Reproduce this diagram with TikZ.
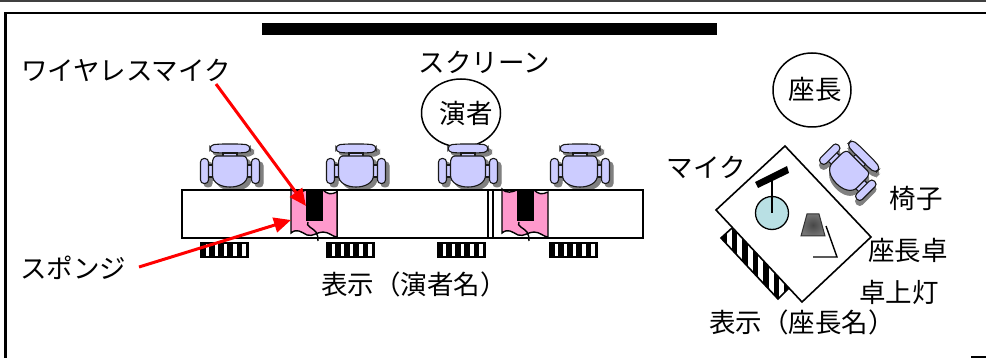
\documentclass[tikz,border=0pt]{standalone}
\usepackage{fontspec}
\newfontfamily\jp{Noto Sans CJK JP}
\usetikzlibrary{arrows.meta,shapes.geometric}
\definecolor{chairblue}{HTML}{CCCCFF}
\definecolor{flagpink}{HTML}{FF99CC}
\definecolor{micblue}{HTML}{B9E0E4}
\newcommand{\chairshapes}[1]{%
  \path[#1,rounded corners=4pt] (-20,-20) -- (-10,-21) -- (10,-21) -- (20,-20) -- (20,-13) -- (10,-12) -- (-10,-12) -- (-20,-13) -- cycle;
  \path[#1] (-7,-12) rectangle (7,-8);
  \path[#1] (-22,0) rectangle (-17,12);
  \path[#1] (22,0) rectangle (17,12);
  \path[#1,rounded corners=3.5pt] (-29.5,-6.5) rectangle (-21.5,18.5);
  \path[#1,rounded corners=3.5pt] (21.5,-6.5) rectangle (29.5,18.5);
  \path[#1] (-13,-9) -- (13,-9) .. controls (16,-9) and (17.5,-6) .. (17.5,-2) -- (17.5,10) .. controls (17.5,18) and (9,22) .. (0,22) .. controls (-9,22) and (-17.5,18) .. (-17.5,10) -- (-17.5,-2) .. controls (-17.5,-6) and (-16,-9) .. (-13,-9) -- cycle;
}
\tikzset{
  x=1pt,y=-1pt,
  chairpic/.pic={
    \begin{scope}[shift={(3.5,3.5)}]\chairshapes{fill=black!50,draw=black!50,line width=1pt}\end{scope}
    \chairshapes{fill=chairblue,draw=black!90,line width=1.1pt}
  },
  deskbox/.style={draw=black,fill=white,line width=2pt},
  stripbox/.pic={
    \fill[black] (0,0) rectangle (49,16);
    \foreach \i in {0,...,4}{\fill[white] (5.5+\i*9.2,2) rectangle (9+\i*9.2,14);}
  },
  flagpic/.pic={
    \path[fill=flagpink,draw=black,line width=1.4pt] (0,-1) -- (0,43) .. controls (6,38) and (10,42) .. (16,45) .. controls (22,47) and (26,42) .. (32,42) .. controls (38,42) and (42,47) .. (46,47) -- (46,2) .. controls (40,5) and (36,4) .. (32,0) -- (15,0) .. controls (10,2) and (5,4) .. (0,-1) -- cycle;
    \draw[black,line width=1.4pt] (17,32) .. controls (14,36) and (22,38) .. (25,42) .. controls (27,45) and (27,48) .. (27,51);
    \fill[black] (15,-1) rectangle (32,31);
  },
  jplabel/.style={inner sep=0pt,font=\jp\fontsize{26.5}{26.5}\selectfont,text=black},
  ringnode/.style={draw=black,fill=white,ellipse,line width=1.5pt,inner sep=0pt},
  redarrow/.style={draw=red,line width=3pt,-{Triangle[length=17pt,width=15pt]}},
}
\begin{document}
\begin{tikzpicture}
\useasboundingbox (0,0) rectangle (986,358);
\fill[white] (0,0) rectangle (986,358);
% frame
\draw[black!75,line width=1.4pt] (0,1) -- (986,1);
\draw[black,line width=2.6pt] (986,13) -- (5.5,13) -- (5.5,358);
\fill[black] (971,355.5) rectangle (986,358);
% screen
\fill[black] (262,23) rectangle (717,35.5);
\node[jplabel] (screen) at (484.5,62) {スクリーン};
% speaker circles
\node[ringnode,minimum width=79pt,minimum height=68pt] (speaker) at (461,113) {};
\node[jplabel] (speakertext) at (466,113.5) {演者};
\node[ringnode,minimum width=78pt,minimum height=74pt] (chairperson) at (812,90) {};
\node[jplabel] (chairpersontext) at (815,89.5) {座長};
% chairs
\pic at (230,165) {chairpic};
\pic at (356,165) {chairpic};
\pic at (468,165) {chairpic};
\pic at (580,165) {chairpic};
% desks
\draw[deskbox] (182,190) rectangle (337,238);
\draw[deskbox] (337,190) rectangle (492.5,238);
\draw[black,line width=1.6pt] (488,190) -- (488,238);
\draw[deskbox] (493,190) rectangle (643,238);
% flags
\pic at (291,190) {flagpic};
\pic at (502,190) {flagpic};
% name strips
\pic at (200,242) {stripbox};
\pic at (326,242) {stripbox};
\pic at (437,242) {stripbox};
\pic at (549,242) {stripbox};
% chairperson desk strip
\begin{scope}
  \clip (721,238) -- (732,228) -- (790,287) -- (778,299) -- cycle;
  \fill[white] (715,220) rectangle (795,305);
  \foreach \i in {0,...,6}{\fill[black] (721+\i*10.5,225) rectangle (726.5+\i*10.5,305);}
\end{scope}
\draw[black,line width=1.6pt] (732,228) -- (721,238) -- (778,299) -- (790,287);
% chairperson desk
\draw[fill=white,draw=black,line width=1.6pt] (785,146) -- (871,237) -- (802,302) -- (716,210) -- cycle;
% microphone
\fill[black] (755,182) -- (787,166) -- (789,173) -- (758,188) -- cycle;
\node[circle,draw=black,fill=micblue,line width=1.3pt,minimum size=33pt,inner sep=0pt] (micbase) at (772,213) {};
\coordinate (micarm) at (772,177);
\draw[black,line width=1.4pt] (micarm) -- (micbase.center);
% lamp
\shade[inner color=black!72,outer color=black!55] (807,214) -- (819,214) -- (825,236) -- (801,236) -- cycle;
\draw[black!80,line width=1pt] (807,214) -- (819,214) -- (825,236) -- (801,236) -- cycle;
\coordinate (lampa) at (826,226);
\coordinate (lampb) at (837,257);
\coordinate (lampc) at (813,257);
\draw[black,line width=1.4pt] (lampa) -- (lampb) -- (lampc);
% rotated chair
\pic[rotate=-45] at (852,168) {chairpic};
% labels
\node[jplabel] (wmic) at (126,70) {ワイヤレスマイク};
\node[jplabel] (sponge) at (73,268) {スポンジ};
\node[jplabel] (mic) at (706,167) {マイク};
\node[jplabel] (chairlabel) at (916,198) {椅子};
\node[jplabel] (desklabel) at (908,250) {座長卓};
\node[jplabel] (lamplabel) at (899,292) {卓上灯};
\node[jplabel] (nameA) at (414,284) {表示（演者名）};
\node[jplabel] (nameB) at (802,322) {表示（座長名）};
% arrows
\coordinate (wstart) at (216,84);
\coordinate (wtip) at (306,206);
\coordinate (sstart) at (139,267);
\coordinate (stip) at (291,220);
\draw[redarrow] (wstart) -- (wtip);
\draw[redarrow] (sstart) -- (stip);
\end{tikzpicture}
\end{document}
